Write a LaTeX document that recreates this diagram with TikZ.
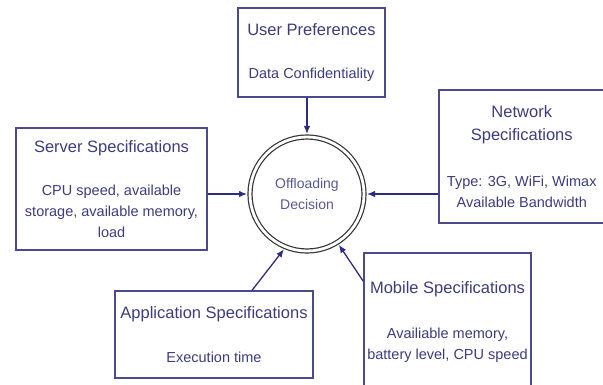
\documentclass[tikz,border=0pt]{standalone}
\usepackage{fontspec}
\setmainfont{Liberation Sans}
\usetikzlibrary{arrows.meta}

\definecolor{boxline}{HTML}{4A4A8C}
\definecolor{boxtext}{HTML}{3C3C7C}
\definecolor{feedline}{HTML}{2C2C80}
\newcommand{\spectitle}{\fontsize{16.5}{23}\selectfont}

\begin{document}
\begin{tikzpicture}[
  x=1pt, y=-1pt,
  specbox/.style={draw=boxline,rectangle,line width=1.3pt,inner sep=0pt,align=center,
    text=boxtext,font=\fontsize{14.5}{21}\selectfont},
  dnode/.style={draw=black!80,circle,line width=1.2pt,double,double distance=2.8pt,
    minimum size=114pt,inner sep=0pt,align=center,text=boxtext!85!white,
    font=\fontsize{14}{21}\selectfont},
  feed/.style={draw=feedline,line width=1.3pt,shorten >=2.4pt,-{Latex[length=8pt,width=6.5pt]}}
]
  \useasboundingbox (0,0) rectangle (603,385);

  % decision
  \node[dnode] (circ) at (307,194) {Offloading\\Decision};

  % specifications
  \node[specbox,minimum width=147pt,minimum height=89pt] (user) at (311.5,52.5)
    {{\spectitle User Preferences}\\[22pt]Data Confidentiality};
  \node[specbox,minimum width=191pt,minimum height=122pt] (server) at (111.5,189)
    {{\spectitle Server Specifications}\\[22pt]CPU speed, available\\storage, available memory,\\load};
  \node[specbox,minimum width=165.5pt,minimum height=133pt] (network) at (521.75,156.5)
    {{\spectitle Network}\\[2.5pt]{\spectitle Specifications}\\[25pt]Type: 3G, WiFi, Wimax\\Available Bandwidth};
  \node[specbox,minimum width=198pt,minimum height=87pt] (app) at (214,334.5)
    {{\spectitle Application Specifications}\\[22.5pt]Execution time};
  \node[specbox,minimum width=167pt,minimum height=138pt] (mobile) at (447.5,322)
    {{\spectitle Mobile Specifications}\\[24pt]Availiable memory,\\battery level, CPU speed};

  % inputs
  \draw[feed] (circ |- user.south) -- (circ);
  \draw[feed] (server.east |- circ) -- (circ);
  \draw[feed] (network.west |- circ) -- (circ);
  \draw[feed] ([xshift=38pt]app.north) -- (circ.248);
  \draw[feed] ([yshift=-29pt]mobile.north west) -- (circ.302);

\end{tikzpicture}
\end{document}
